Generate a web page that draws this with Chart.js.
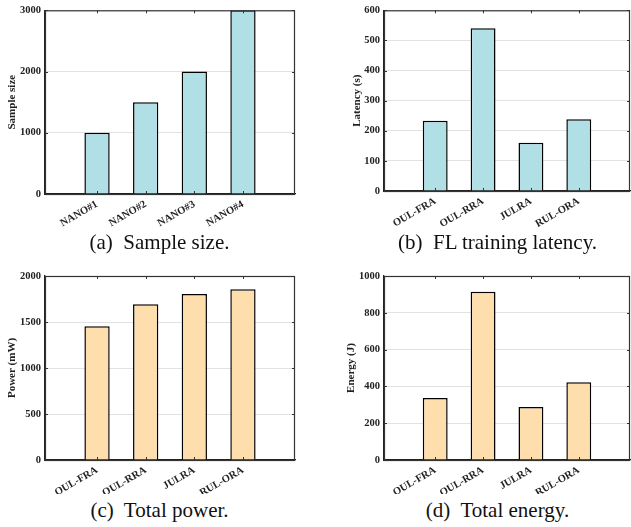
<!DOCTYPE html>
<html>
<head>
<meta charset="utf-8">
<script src="https://cdn.jsdelivr.net/npm/chart.js@4.4.1/dist/chart.umd.min.js"></script>
<style>
  html, body { margin: 0; padding: 0; background: #fff; }
  #page { position: relative; width: 631px; height: 527px; overflow: hidden; }
  canvas { position: absolute; }
  .cap {
    position: absolute; width: 315px; text-align: center;
    font-family: 'Liberation Serif', 'Times New Roman', serif;
    font-size: 21px; line-height: 21px; color: #111; white-space: pre;
  }
</style>
</head>
<body>
<div id="page">
  <canvas id="chartA" width="315" height="232" style="left:0;top:0"></canvas>
  <canvas id="chartB" width="316" height="232" style="left:315px;top:0"></canvas>
  <canvas id="chartC" width="315" height="232" style="left:0;top:262px"></canvas>
  <canvas id="chartD" width="316" height="232" style="left:315px;top:262px"></canvas>
  <div class="cap" style="left:2px;top:232px">(a)  Sample size.</div>
  <div class="cap" style="left:340px;top:232px">(b)  FL training latency.</div>
  <div class="cap" style="left:2px;top:500px">(c)  Total power.</div>
  <div class="cap" style="left:340px;top:500px">(d)  Total energy.</div>
</div>
<script>
// ============================================================
// DATA
// ============================================================
const devices = ['NANO#1', 'NANO#2', 'NANO#3', 'NANO#4'];
const sampleSizes = [1000, 1500, 2000, 3000];

const schemes = ['OUL-FRA', 'OUL-RRA', 'JULRA', 'RUL-ORA'];
const latency = [233, 540, 160, 238];
const power = [1453, 1692, 1804, 1857];
const energy = [337, 915, 288, 422];

const COLOR_BLUE = 'rgb(176, 224, 230)';
const COLOR_ORANGE = 'rgb(255, 222, 173)';
const SERIF = "'Liberation Serif', 'Times New Roman', serif";
const X_MARGIN = 1.07; // empty space (in category units) left of first / right of last bar

// ============================================================
// FRAME + INWARD TICKS
// ============================================================
const framePlugin = {
  id: 'frame',
  afterDraw(chart) {
    const { ctx, chartArea: a, scales } = chart;
    const n = chart.data.datasets[0].data.length;
    ctx.save();
    ctx.strokeStyle = '#333';
    ctx.lineWidth = 1.2;
    ctx.strokeRect(a.left + 0.5, a.top + 0.5, a.right - a.left - 1, a.bottom - a.top);
    ctx.lineWidth = 1;
    scales.x.ticks.forEach((t, i) => {
      if (t.value < 1 || t.value > n) return;
      const px = Math.round(scales.x.getPixelForTick(i)) + 0.5;
      ctx.beginPath();
      ctx.moveTo(px, a.top); ctx.lineTo(px, a.top + 3);
      ctx.moveTo(px, a.bottom); ctx.lineTo(px, a.bottom - 3);
      ctx.stroke();
    });
    scales.y.ticks.forEach((t, i) => {
      const py = Math.round(scales.y.getPixelForTick(i)) + 0.5;
      ctx.beginPath();
      ctx.moveTo(a.left, py); ctx.lineTo(a.left + 3, py);
      ctx.moveTo(a.right, py); ctx.lineTo(a.right - 3, py);
      ctx.stroke();
    });
    ctx.restore();
  }
};

// ============================================================
// PANEL BUILDER
// ============================================================
function makePanel(id, cats, vals, color, yTitle, yMax, yStep, box) {
  const canvas = document.getElementById(id);
  const points = vals.map((v, i) => ({ x: i + 1, y: v }));
  return new Chart(canvas, {
    type: 'bar',
    data: {
      datasets: [{
        data: points,
        backgroundColor: color,
        borderColor: '#000',
        borderWidth: 1.5,
        categoryPercentage: 1,
        barPercentage: 0.52
      }]
    },
    options: {
      responsive: false,
      animation: false,
      layout: { padding: { top: box.top, right: box.right, left: 0, bottom: 0 } },
      plugins: { legend: { display: false }, tooltip: { enabled: false } },
      scales: {
        x: {
          type: 'linear',
          offset: false,
          min: 1 - X_MARGIN,
          max: cats.length + X_MARGIN,
          afterFit: s => { s.height = box.xh; },
          afterBuildTicks: s => {
            s.ticks = cats.map((c, i) => ({ value: i + 1 }));
          },
          grid: { display: false, offset: false, drawTicks: false },
          border: { display: true, color: '#222', width: 1.3 },
          ticks: {
            autoSkip: false,
            minRotation: 30,
            maxRotation: 30,
            padding: 4,
            color: '#222',
            font: { family: SERIF, size: 10.5, weight: 'bold' },
            callback: v => cats[v - 1] || ''
          }
        },
        y: {
          min: 0,
          max: yMax,
          afterFit: s => { s.width = box.yw; },
          grid: { color: '#e2e2e2', lineWidth: 1, drawTicks: false },
          border: { display: true, color: '#222', width: 1.3 },
          ticks: {
            stepSize: yStep,
            padding: 4,
            color: '#222',
            font: { family: SERIF, size: 10.5, weight: 'bold' },
            callback: v => String(v)
          },
          title: {
            display: true,
            text: yTitle,
            color: '#222',
            padding: { top: box.tp, bottom: 0 },
            font: { family: SERIF, size: 11, weight: 'bold' }
          }
        }
      }
    },
    plugins: [framePlugin]
  });
}

// ============================================================
// DRAW
// ============================================================
makePanel('chartA', devices, sampleSizes, COLOR_BLUE, 'Sample size', 3000, 1000,
  { top: 7, right: 20, xh: 38, yw: 45, tp: 6 });
makePanel('chartB', schemes, latency, COLOR_BLUE, 'Latency (s)', 600, 100,
  { top: 7, right: 1, xh: 41, yw: 69, tp: 36 });
makePanel('chartC', schemes, power, COLOR_ORANGE, 'Power (mW)', 2000, 500,
  { top: 14, right: 20, xh: 34, yw: 45, tp: 6 });
makePanel('chartD', schemes, energy, COLOR_ORANGE, 'Energy (J)', 1000, 200,
  { top: 14, right: 1, xh: 34, yw: 69, tp: 30 });
</script>
</body>
</html>
